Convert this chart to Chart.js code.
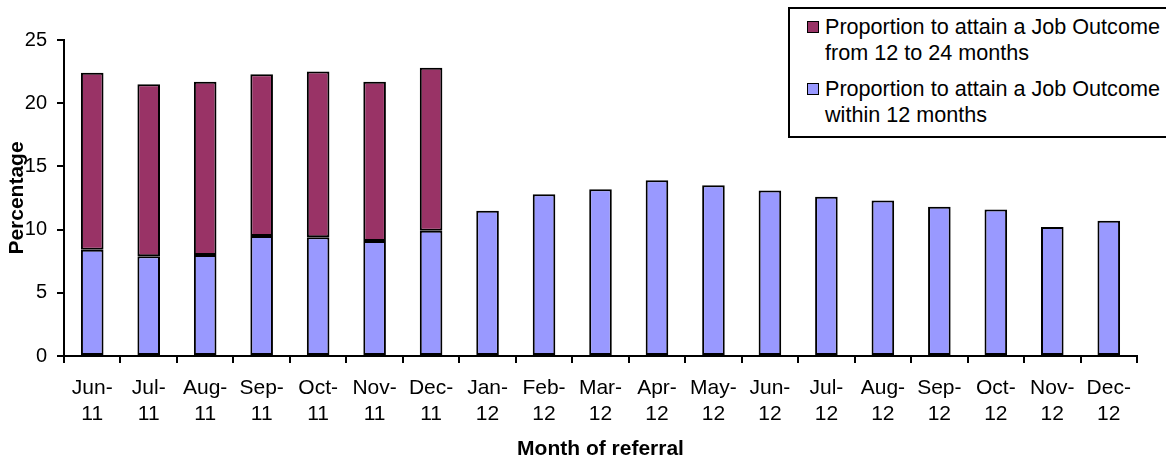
<!DOCTYPE html>
<html>
<head>
<meta charset="utf-8">
<script src="https://cdn.jsdelivr.net/npm/chart.js@4/dist/chart.umd.min.js"></script>
<style>
  body { margin: 0; background: #fff; }
  .caja { position: relative; width: 1166px; height: 460px; overflow: hidden; }
  .leyenda {
    position: absolute; left: 788px; top: 7px; width: 420px; height: 127px;
    border: 2px solid #000; background: #fff;
    font-family: "Liberation Sans", Arial, sans-serif; font-size: 21.6px; line-height: 26px; color: #000;
    white-space: nowrap;
  }
  .item { position: absolute; left: 35px; }
  .marca { position: absolute; left: -18px; top: 7px; width: 10px; height: 10px; border: 1.5px solid #000; }
</style>
</head>
<body>
<div class="caja">
  <canvas id="grafica" width="1166" height="460"></canvas>
  <div class="leyenda"></div>
</div>
<script>
const meses = ["Jun-11", "Jul-11", "Aug-11", "Sep-11", "Oct-11", "Nov-11", "Dec-11",
  "Jan-12", "Feb-12", "Mar-12", "Apr-12", "May-12", "Jun-12", "Jul-12", "Aug-12",
  "Sep-12", "Oct-12", "Nov-12", "Dec-12"];
// dentro de 12 meses
const dentro12 = [8.4, 7.9, 8.0, 9.5, 9.4, 9.1, 9.9,
  11.5, 12.8, 13.2, 13.9, 13.5, 13.1, 12.6, 12.3, 11.8, 11.6, 10.2, 10.7];
// de 12 a 24 meses (solo hasta Dec-11)
const de12a24 = [14.0, 13.6, 13.7, 12.8, 13.1, 12.6, 12.9,
  null, null, null, null, null, null, null, null, null, null, null, null];
const ticksY = [0, 5, 10, 15, 20, 25];

const etiquetas = [
  ["Proportion to attain a Job Outcome", "from 12 to 24 months"],
  ["Proportion to attain a Job Outcome", "within 12 months"]
];
const colores = ["#993366", "#9999FF"];

const fuente = "'Liberation Sans', Arial, sans-serif";

// leyenda a mano (el texto va en dos lineas)
const leyenda = document.querySelector(".leyenda");
etiquetas.forEach((lineas, i) => {
  const item = document.createElement("div");
  item.className = "item";
  item.style.top = (i === 0 ? 5 : 67) + "px";
  item.innerHTML = `<span class="marca" style="background:${colores[i]}"></span>${lineas.join("<br>")}`;
  leyenda.appendChild(item);
});

const serieAzul = {
  label: etiquetas[1].join(" "),
  data: dentro12,
  backgroundColor: colores[1],
  borderColor: "#000",
  borderWidth: 2,
  borderSkipped: false,
  barPercentage: 0.4,
  categoryPercentage: 1
};

const serieGranate = {
  label: etiquetas[0].join(" "),
  data: de12a24,
  backgroundColor: colores[0],
  borderColor: "#000",
  borderWidth: 2,
  borderSkipped: false,
  barPercentage: 0.4,
  categoryPercentage: 1
};

new Chart(document.getElementById("grafica"), {
  type: "bar",
  data: {
    labels: meses,
    datasets: [serieAzul, serieGranate]
  },
  options: {
    responsive: false,
    animation: false,
    devicePixelRatio: 1,
    layout: { padding: { top: 40, right: 29, bottom: 0, left: 0 } },
    plugins: {
      legend: { display: false },
      tooltip: { enabled: false }
    },
    scales: {
      x: {
        stacked: true,
        grid: { drawOnChartArea: false, offset: true, color: "#000", lineWidth: 2, tickLength: 7 },
        border: { color: "#000", width: 2 },
        ticks: {
          color: "#000",
          font: { family: fuente, size: 21, lineHeight: 1.24 },
          padding: 12,
          maxRotation: 0,
          autoSkip: false,
          callback: function (valor) {
            const partes = meses[valor].split("-");
            return [partes[0] + "-", partes[1]];
          }
        },
        title: {
          display: true,
          text: "Month of referral",
          color: "#000",
          font: { family: fuente, size: 21, weight: "bold" },
          padding: { top: 0, bottom: -2 }
        },
        afterFit: (escala) => { escala.height = 104; }
      },
      y: {
        stacked: true,
        min: 0,
        max: 25,
        afterBuildTicks: (escala) => { escala.ticks = ticksY.map(v => ({ value: v })); },
        grid: { drawOnChartArea: false, color: "#000", lineWidth: 2, tickLength: 7 },
        border: { color: "#000", width: 2 },
        ticks: {
          color: "#000",
          font: { family: fuente, size: 20 },
          padding: 10
        },
        title: {
          display: true,
          text: "Percentage",
          color: "#000",
          font: { family: fuente, size: 21, weight: "bold" },
          padding: { top: 5, bottom: 0 }
        },
        afterFit: (escala) => { escala.width = 64; }
      }
    }
  }
});
</script>
</body>
</html>
